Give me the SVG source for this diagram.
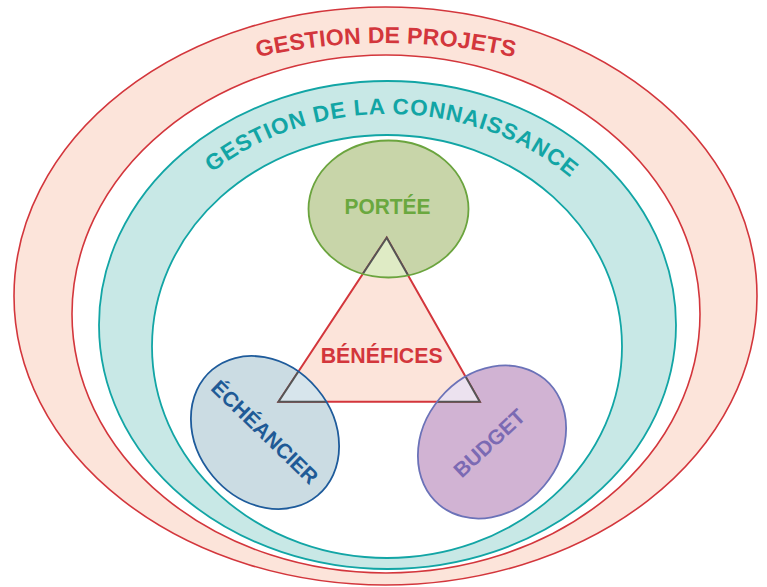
<svg xmlns="http://www.w3.org/2000/svg" width="767" height="587" viewBox="0 0 767 587">
<style>
text{font-family:"Liberation Sans",Arial,sans-serif;font-weight:bold}
.red{fill:#d3363c}
.teal{fill:#12a5a5}
</style>
<defs>
<ellipse id="eP" cx="388.5" cy="209" rx="80" ry="68.5"/>
<ellipse id="eE" cx="265" cy="432.5" rx="82" ry="68" transform="rotate(50 265 432.5)"/>
<ellipse id="eB" cx="492" cy="442" rx="82" ry="68" transform="rotate(-50 492 442)"/>
<clipPath id="cP"><use href="#eP"/></clipPath>
<clipPath id="cE"><use href="#eE"/></clipPath>
<clipPath id="cB"><use href="#eB"/></clipPath>
<path id="arcProj" d="M -14,313 A 400,270 0 0 1 786,313"/>
<path id="arcConn" d="M 128,336 A 260,222 0 0 1 648,336"/>
<polygon id="tri" points="386.7,237.7 278.5,401.7 479.8,401.7"/>
</defs>

<g id="gestion-projets">
<ellipse cx="385.5" cy="296" rx="371.5" ry="289" fill="#fce4da" stroke="#d3363c" stroke-width="1.6"/>
<ellipse cx="386" cy="314" rx="314" ry="259" fill="#ffffff" stroke="#d3363c" stroke-width="1.6"/>
<text class="red" font-size="23" letter-spacing="0.2"><textPath href="#arcProj" startOffset="50%" text-anchor="middle">GESTION DE PROJETS</textPath></text>
</g>

<g id="gestion-connaissance">
<ellipse cx="387.5" cy="325" rx="288.5" ry="244" fill="#c8e8e6" stroke="#12a5a5" stroke-width="1.8"/>
<ellipse cx="387" cy="346.5" rx="235" ry="211.5" fill="#ffffff" stroke="#12a5a5" stroke-width="1.8"/>
<text class="teal" font-size="22.5" letter-spacing="0.9"><textPath href="#arcConn" startOffset="50.6%" text-anchor="middle">GESTION DE LA CONNAISSANCE</textPath></text>
</g>

<g id="portee-fill"><use href="#eP" fill="#c8d5a9"/></g>
<g id="echeancier-fill"><use href="#eE" fill="#cbdce3"/></g>
<g id="budget-fill"><use href="#eB" fill="#d1b3d3"/></g>

<g id="benefices">
<use href="#tri" fill="#fce4da" stroke="#d3363c" stroke-width="2" stroke-linejoin="miter"/>
<g clip-path="url(#cP)"><use href="#tri" fill="#dfebc5" stroke="#555555" stroke-width="2"/></g>
<g clip-path="url(#cE)"><use href="#tri" fill="#d7e5ec" stroke="#555555" stroke-width="2"/></g>
<g clip-path="url(#cB)"><use href="#tri" fill="#ece2ef" stroke="#555555" stroke-width="2"/></g>
<text class="red" x="381.7" y="362.7" font-size="22" text-anchor="middle" textLength="122" lengthAdjust="spacingAndGlyphs">BÉNÉFICES</text>
</g>

<g id="portee">
<use href="#eP" fill="none" stroke="#6ba43e" stroke-width="1.8"/>
<text x="387.5" y="214" font-size="22" fill="#6aa83f" text-anchor="middle" textLength="86" lengthAdjust="spacingAndGlyphs">PORTÉE</text>
</g>

<g id="echeancier">
<use href="#eE" fill="none" stroke="#1e5b9b" stroke-width="1.8"/>
<text transform="translate(265 432) rotate(44)" x="0" y="7.5" font-size="21" fill="#1f5a96" text-anchor="middle">ÉCHÉANCIER</text>
</g>

<g id="budget">
<use href="#eB" fill="none" stroke="#6b72b8" stroke-width="1.8"/>
<text transform="translate(489 443) rotate(-43)" x="0" y="7.5" font-size="21" fill="#7b6ab3" text-anchor="middle">BUDGET</text>
</g>

<g id="connectors"></g>
</svg>
